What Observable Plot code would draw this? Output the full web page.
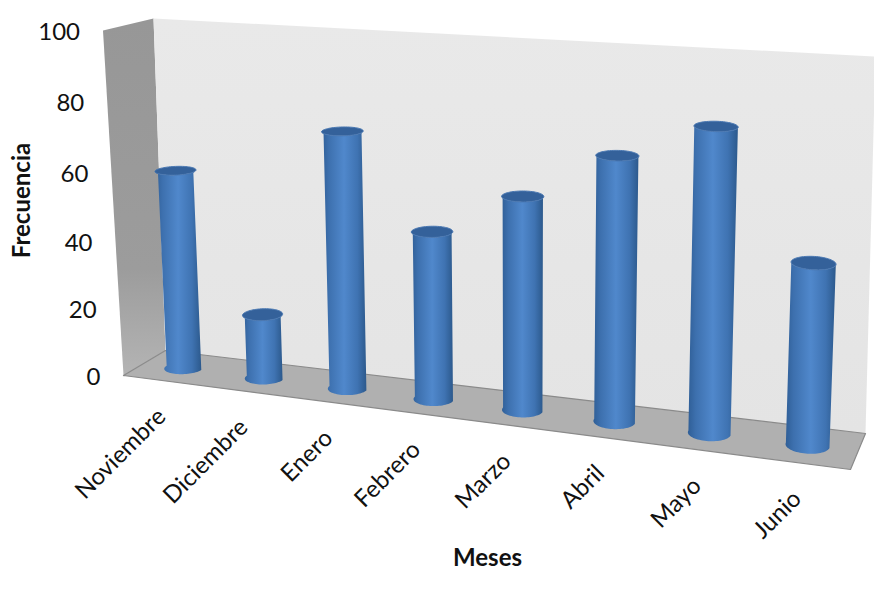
<!DOCTYPE html>
<html lang="es">
<head>
<meta charset="utf-8">
<title>Frecuencia por mes</title>
<script src="https://cdn.jsdelivr.net/npm/d3@7"></script>
<script src="https://cdn.jsdelivr.net/npm/@observablehq/plot@0.6"></script>
<style>
  html, body { margin: 0; padding: 0; background: #fff; }
  svg { display: block; }
</style>
</head>
<body>
<div id="chart"></div>
<script>
// Frecuencia registrada por mes
const meses = ["Noviembre", "Diciembre", "Enero", "Febrero", "Marzo", "Abril", "Mayo", "Junio"];
const frecuencia = [59, 19, 74, 48, 60, 73, 82.5, 49];
const marcasY = [0, 20, 40, 60, 80, 100];

const ancho = 874;
const alto = 594;

// Esquinas de la caja en perspectiva: [ancho][profundidad][altura] -> píxel
const caja = {
  frenteBajoIzq: [123, 375], frenteAltoIzq: [102.5, 30],
  frenteBajoDer: [850, 469], frenteAltoDer: [869, 77],
  fondoBajoIzq: [165, 350], fondoAltoIzq: [153, 18],
  fondoBajoDer: [865, 433], fondoAltoDer: [875, 56]
};
const fugaX = 1.14;
const fugaV = 1.05;
const radioX = 0.218;
const radioD = 0.23;

const escorzo = (s, k) => s / (s + k * (1 - s));
const mezcla = (a, b, t) => [a[0] + (b[0] - a[0]) * t, a[1] + (b[1] - a[1]) * t];

// Proyecta (posición de categoría, profundidad 0-1, valor) sobre el lienzo
function proyectar(cat, prof, valor) {
  const t = escorzo(cat / meses.length, fugaX);
  const v = escorzo(valor / 100, fugaV);
  const frenteBajo = mezcla(caja.frenteBajoIzq, caja.frenteBajoDer, t);
  const frenteAlto = mezcla(caja.frenteAltoIzq, caja.frenteAltoDer, t);
  const fondoBajo = mezcla(caja.fondoBajoIzq, caja.fondoBajoDer, t);
  const fondoAlto = mezcla(caja.fondoAltoIzq, caja.fondoAltoDer, t);
  const frente = mezcla(frenteBajo, frenteAlto, v);
  const fondo = mezcla(fondoBajo, fondoAlto, v);
  return mezcla(frente, fondo, prof);
}
const px = (d) => proyectar(d.cat, d.prof, d.valor)[0];
const py = (d) => proyectar(d.cat, d.prof, d.valor)[1];

const n = meses.length;
const paredLateral = [[0, 0, 0], [0, 1, 0], [0, 1, 100], [0, 0, 100]]
  .map(([cat, prof, valor]) => ({cat, prof, valor}));
const paredFondo = [[0, 1, 0], [n, 1, 0], [n, 1, 100], [0, 1, 100]]
  .map(([cat, prof, valor]) => ({cat, prof, valor}));
const suelo = [[0, 0, 0], [n, 0, 0], [n, 1, 0], [0, 1, 0], [0, 0, 0]]
  .map(([cat, prof, valor]) => ({cat, prof, valor}));

// Contorno del cuerpo: mitad frontal de la base y de la tapa de cada cilindro
const pasos = d3.range(0, 37).map((i) => (i / 36) * Math.PI);
const cuerpos = meses.flatMap((mes, i) => {
  const punto = (a, valor) => ({
    mes,
    cat: i + 0.5 - radioX * Math.cos(a),
    prof: 0.5 - radioD * Math.sin(a),
    valor
  });
  return [
    ...pasos.map((a) => punto(a, 0)),
    ...pasos.slice().reverse().map((a) => punto(a, frecuencia[i]))
  ];
});
const tapas = meses.flatMap((mes, i) =>
  d3.range(0, 73).map((k) => {
    const a = (k / 72) * 2 * Math.PI;
    return {
      mes,
      cat: i + 0.5 + radioX * Math.cos(a),
      prof: 0.5 + radioD * Math.sin(a),
      valor: frecuencia[i]
    };
  })
);

// Degradados de los cilindros y de la pared lateral
function degradados() {
  const defs = d3.create("svg:defs");
  const crear = (id, stops, vertical) => {
    const g = defs.append("linearGradient").attr("id", id)
      .attr("x1", 0).attr("y1", 0)
      .attr("x2", vertical ? 0 : 1).attr("y2", vertical ? 1 : 0);
    for (const [o, c] of stops) g.append("stop").attr("offset", o).attr("stop-color", c);
  };
  crear("cuerpo", [[0, "#2f5e96"], [0.16, "#3d70ae"], [0.5, "#5088cc"], [0.8, "#3f73b2"], [1, "#2c598c"]]);
  crear("lateral", [[0, "#979797"], [0.7, "#9c9c9c"], [1, "#b4b4b4"]], true);
  crear("fondo", [[0, "#e9e9e9"], [1, "#e4e4e4"]], true);
  return defs.node();
}

const textoEje = {fontFamily: "Lato, sans-serif", fill: "#111"};

const chart = Plot.plot({
  width: ancho,
  height: alto,
  margin: 0,
  x: {domain: [0, ancho], range: [0, ancho], axis: null},
  y: {domain: [0, alto], range: [0, alto], axis: null},
  marks: [
    degradados,
    Plot.line(paredLateral.concat(paredLateral[0]), {x: px, y: py, fill: "url(#lateral)", stroke: "none"}),
    Plot.line(paredFondo.concat(paredFondo[0]), {x: px, y: py, fill: "url(#fondo)", stroke: "none"}),
    Plot.line(suelo, {x: px, y: py, fill: "#b0b0b0", stroke: "#8a8a8a", strokeWidth: 1.2}),
    Plot.line(cuerpos, {x: px, y: py, z: "mes", fill: "url(#cuerpo)", stroke: "none"}),
    Plot.line(tapas, {x: px, y: py, z: "mes", fill: "#34619a", stroke: "#4a78b2", strokeWidth: 1}),
    Plot.text(marcasY, {
      x: (v) => proyectar(0, 0, v)[0],
      y: (v) => proyectar(0, 0, v)[1],
      text: String,
      dx: -23,
      dy: 1.5,
      textAnchor: "end",
      fontSize: 24,
      ...textoEje
    }),
    Plot.text(meses, {
      x: (_, i) => proyectar(i + 0.5, 0, 0)[0],
      y: (_, i) => proyectar(i + 0.5, 0, 0)[1],
      text: (d) => d,
      rotate: -45,
      dx: -2,
      dy: 32,
      textAnchor: "end",
      fontSize: 24,
      ...textoEje
    }),
    Plot.text(["Frecuencia"], {
      x: () => 21.5, y: () => 200, text: (d) => d, rotate: -90,
      fontSize: 24, fontWeight: "bold", ...textoEje
    }),
    Plot.text(["Meses"], {
      x: () => 487, y: () => 558, text: (d) => d,
      fontSize: 24, fontWeight: "bold", ...textoEje
    })
  ]
});
document.getElementById("chart").append(chart);
</script>
</body>
</html>
